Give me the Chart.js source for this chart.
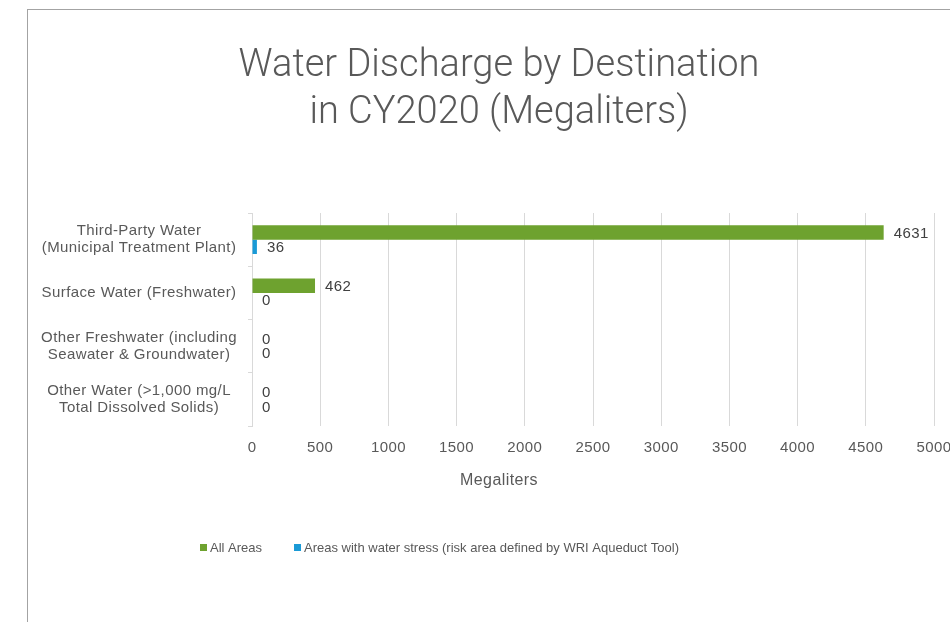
<!DOCTYPE html>
<html>
<head>
<meta charset="utf-8">
<script src="https://cdn.jsdelivr.net/npm/chart.js@4.4.0/dist/chart.umd.min.js"></script>
<style>
  html, body { margin: 0; padding: 0; background: #fff; overflow: hidden; }
  #frame {
    position: absolute; left: 27px; top: 9px; width: 1000px; height: 700px;
    border-top: 1px solid #a3a3a3; border-left: 1px solid #a3a3a3;
  }
  #box { position: absolute; left: 0; top: 0; width: 944px; height: 613px; }
</style>
</head>
<body>
<div id="frame"><div id="box"><canvas id="chart"></canvas></div></div>
<script>
// categories and series
const categories = [
    ['Third-Party Water', '(Municipal Treatment Plant)'],
    'Surface Water (Freshwater)',
    ['Other Freshwater (including', 'Seawater & Groundwater)'],
    ['Other Water (>1,000 mg/L', 'Total Dissolved Solids)']
];
const allAreas = [4631, 462, 0, 0];
const waterStress = [36, 0, 0, 0];
const seriesNames = ['All Areas', 'Areas with water stress (risk area defined by WRI Aqueduct Tool)'];
const xTicks = [0, 500, 1000, 1500, 2000, 2500, 3000, 3500, 4000, 4500, 5000];
const chartTitle = ['Water Discharge by Destination', 'in CY2020 (Megaliters)'];
const xTitle = 'Megaliters';

const FONT = '"Liberation Sans", Arial, sans-serif';
const GREY = '#595959';
const SPACING = '0.4px';
const MID_X = 471;   // centre of the whole chart, not of the plot

// the reference font is set loose, canvas resets this on resize
const loose = {
    id: 'loose',
    beforeLayout(chart) { chart.ctx.letterSpacing = SPACING; },
    beforeDraw(chart) { chart.ctx.letterSpacing = SPACING; }
};

// value labels just past the end of each bar
const valueLabels = {
    id: 'valueLabels',
    afterDatasetsDraw(chart) {
        const ctx = chart.ctx;
        ctx.save();
        ctx.font = '15px ' + FONT;
        ctx.fillStyle = '#404040';
        ctx.textAlign = 'left';
        ctx.textBaseline = 'middle';
        chart.data.datasets.forEach((ds, i) => {
            chart.getDatasetMeta(i).data.forEach((bar, j) => {
                ctx.fillText(String(ds.data[j]), bar.x + 10, bar.y + 1);
            });
        });
        ctx.restore();
    }
};

// title, axis title and legend are centred on the whole chart
const decor = {
    id: 'decor',
    afterDraw(chart) {
        const ctx = chart.ctx;
        ctx.save();
        ctx.letterSpacing = '0px';
        ctx.fillStyle = GREY;
        ctx.textAlign = 'center';
        ctx.textBaseline = 'alphabetic';
        ctx.font = '300 38px Roboto';
        chartTitle.forEach((line, i) => ctx.fillText(line, MID_X, 66 + i * 47));

        ctx.letterSpacing = SPACING;
        ctx.font = '16px ' + FONT;
        ctx.textBaseline = 'middle';
        ctx.fillText(xTitle, MID_X, 471);

        ctx.letterSpacing = '0px';
        ctx.font = '13px ' + FONT;
        ctx.textAlign = 'left';
        let x = 172;
        const y = 537;
        chart.data.datasets.forEach((ds) => {
            ctx.fillStyle = ds.backgroundColor;
            ctx.fillRect(x, y - 3, 7, 7);
            x += 10;
            ctx.fillStyle = GREY;
            ctx.fillText(ds.label, x, y + 1);
            x += ctx.measureText(ds.label).width + 32;
        });
        ctx.restore();
    }
};

new Chart(document.getElementById('chart'), {
    type: 'bar',
    data: {
        labels: categories,
        datasets: [
            { label: seriesNames[0], data: allAreas, backgroundColor: '#6ea22f',
              categoryPercentage: 0.54, barPercentage: 1 },
            { label: seriesNames[1], data: waterStress, backgroundColor: '#1a9ad6',
              categoryPercentage: 0.54, barPercentage: 1 }
        ]
    },
    plugins: [loose, valueLabels, decor],
    options: {
        indexAxis: 'y',
        responsive: true,
        maintainAspectRatio: false,
        animation: false,
        layout: { padding: { left: 0, right: 38, top: 203, bottom: 153 } },
        plugins: {
            legend: { display: false },
            tooltip: { enabled: false },
            title: { display: false }
        },
        scales: {
            x: {
                min: 0,
                max: 5000,
                afterBuildTicks(scale) { scale.ticks = xTicks.map(v => ({ value: v })); },
                grid: { color: '#d9d9d9', drawTicks: false },
                border: { display: false },
                ticks: {
                    color: GREY, font: { family: FONT, size: 15 }, padding: 13,
                    callback: (v) => String(v)
                }
            },
            y: {
                afterFit(scale) { scale.width = 224; },
                grid: { drawOnChartArea: false, color: '#d9d9d9', tickLength: 4 },
                border: { display: true, color: '#d9d9d9' },
                ticks: {
                    color: GREY, crossAlign: 'center', padding: 11,
                    font: { family: FONT, size: 15, lineHeight: 1.12 }
                }
            }
        }
    }
});
</script>
</body>
</html>
